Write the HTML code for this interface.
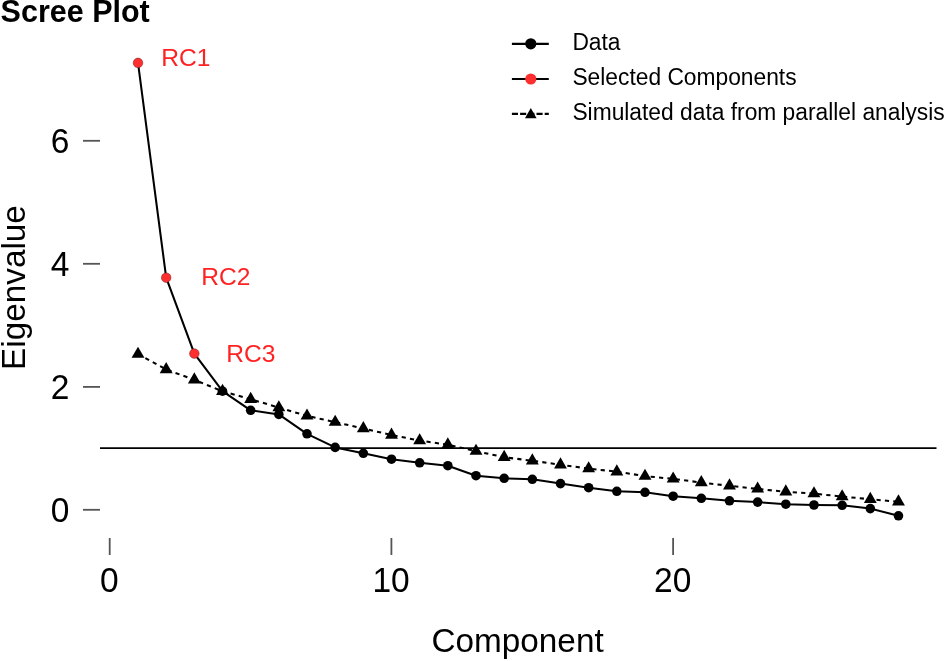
<!DOCTYPE html>
<html lang="en"><head><meta charset="utf-8"><title>Scree Plot</title>
<style>
html,body{margin:0;padding:0;background:#fff;}
body{width:945px;height:661px;overflow:hidden;}
svg{display:block;}
text{font-family:"Liberation Sans",Arial,Helvetica,sans-serif;fill:#000;}
</style></head><body>
<svg width="945" height="661" viewBox="0 0 945 661">
<rect width="945" height="661" fill="#fff"/>

<text x="0.6" y="21.9" font-size="30.5" font-weight="bold">Scree Plot</text>
<text transform="translate(24.5,287.5) rotate(-90)" font-size="33.3" text-anchor="middle">Eigenvalue</text>
<text x="517.6" y="651.8" font-size="33.3" text-anchor="middle">Component</text>
<line x1="83" y1="509.8" x2="100" y2="509.8" stroke="#555" stroke-width="1.8"/>
<text transform="translate(69.5,521.70) scale(1,1.045)" font-size="33.5" text-anchor="end">0</text>
<line x1="83" y1="386.9" x2="100" y2="386.9" stroke="#555" stroke-width="1.8"/>
<text transform="translate(69.5,398.80) scale(1,1.045)" font-size="33.5" text-anchor="end">2</text>
<line x1="83" y1="263.8" x2="100" y2="263.8" stroke="#555" stroke-width="1.8"/>
<text transform="translate(69.5,275.70) scale(1,1.045)" font-size="33.5" text-anchor="end">4</text>
<line x1="83" y1="140.8" x2="100" y2="140.8" stroke="#555" stroke-width="1.8"/>
<text transform="translate(69.5,152.70) scale(1,1.045)" font-size="33.5" text-anchor="end">6</text>
<line x1="109.70" y1="538" x2="109.70" y2="555" stroke="#555" stroke-width="1.8"/>
<text transform="translate(109.30,592.4) scale(1,1.05)" font-size="33.5" text-anchor="middle">0</text>
<line x1="391.40" y1="538" x2="391.40" y2="555" stroke="#555" stroke-width="1.8"/>
<text transform="translate(391.00,592.4) scale(1,1.05)" font-size="33.5" text-anchor="middle">10</text>
<line x1="673.10" y1="538" x2="673.10" y2="555" stroke="#555" stroke-width="1.8"/>
<text transform="translate(672.70,592.4) scale(1,1.05)" font-size="33.5" text-anchor="middle">20</text>
<line x1="100" y1="448.1" x2="936.5" y2="448.1" stroke="#000" stroke-width="1.8"/>
<polyline points="138.01,354.10 166.18,369.50 194.34,379.80 222.51,391.30 250.67,399.20 278.84,407.60 307.00,415.90 335.17,422.10 363.33,428.50 391.50,435.00 419.66,440.60 447.83,444.70 476.00,451.10 504.16,457.30 532.32,460.70 560.49,464.70 588.65,468.60 616.82,471.70 644.99,476.10 673.15,478.90 701.32,482.50 729.48,485.80 757.64,488.90 785.81,491.80 813.98,493.60 842.14,496.60 870.30,499.20 898.47,501.80" fill="none" stroke="#000" stroke-width="2.05" stroke-dasharray="4.2 4.21"/>
<g fill="#000"><polygon points="138.01,346.65 144.47,357.83 131.56,357.83"/><polygon points="166.18,362.05 172.63,373.23 159.73,373.23"/><polygon points="194.34,372.35 200.80,383.53 187.89,383.53"/><polygon points="222.51,383.85 228.96,395.03 216.06,395.03"/><polygon points="250.67,391.75 257.13,402.93 244.22,402.93"/><polygon points="278.84,400.15 285.29,411.33 272.39,411.33"/><polygon points="307.00,408.45 313.46,419.62 300.55,419.62"/><polygon points="335.17,414.65 341.62,425.83 328.72,425.83"/><polygon points="363.33,421.05 369.79,432.23 356.88,432.23"/><polygon points="391.50,427.55 397.95,438.73 385.05,438.73"/><polygon points="419.66,433.15 426.12,444.33 413.21,444.33"/><polygon points="447.83,437.25 454.28,448.43 441.38,448.43"/><polygon points="476.00,443.65 482.45,454.83 469.54,454.83"/><polygon points="504.16,449.85 510.61,461.03 497.71,461.03"/><polygon points="532.32,453.25 538.78,464.43 525.87,464.43"/><polygon points="560.49,457.25 566.94,468.43 554.04,468.43"/><polygon points="588.65,461.15 595.11,472.33 582.20,472.33"/><polygon points="616.82,464.25 623.27,475.43 610.37,475.43"/><polygon points="644.99,468.65 651.44,479.83 638.53,479.83"/><polygon points="673.15,471.45 679.60,482.62 666.70,482.62"/><polygon points="701.32,475.05 707.77,486.23 694.86,486.23"/><polygon points="729.48,478.35 735.93,489.53 723.03,489.53"/><polygon points="757.64,481.45 764.10,492.62 751.19,492.62"/><polygon points="785.81,484.35 792.26,495.53 779.36,495.53"/><polygon points="813.98,486.15 820.43,497.33 807.52,497.33"/><polygon points="842.14,489.15 848.59,500.33 835.69,500.33"/><polygon points="870.30,491.75 876.76,502.93 863.85,502.93"/><polygon points="898.47,494.35 904.92,505.53 892.02,505.53"/></g>
<polyline points="138.01,62.90 166.18,277.70 194.34,353.60 222.51,391.20 250.67,410.30 278.84,414.40 307.00,433.80 335.17,447.40 363.33,453.30 391.50,459.20 419.66,462.80 447.83,465.70 476.00,475.70 504.16,478.30 532.32,479.30 560.49,483.60 588.65,487.70 616.82,491.30 644.99,492.30 673.15,496.20 701.32,498.30 729.48,500.80 757.64,502.10 785.81,504.20 813.98,505.00 842.14,505.30 870.30,508.60 898.47,515.80" fill="none" stroke="#000" stroke-width="2.05" stroke-linejoin="round"/>
<g fill="#000"><circle cx="222.51" cy="391.20" r="4.8"/><circle cx="250.67" cy="410.30" r="4.8"/><circle cx="278.84" cy="414.40" r="4.8"/><circle cx="307.00" cy="433.80" r="4.8"/><circle cx="335.17" cy="447.40" r="4.8"/><circle cx="363.33" cy="453.30" r="4.8"/><circle cx="391.50" cy="459.20" r="4.8"/><circle cx="419.66" cy="462.80" r="4.8"/><circle cx="447.83" cy="465.70" r="4.8"/><circle cx="476.00" cy="475.70" r="4.8"/><circle cx="504.16" cy="478.30" r="4.8"/><circle cx="532.32" cy="479.30" r="4.8"/><circle cx="560.49" cy="483.60" r="4.8"/><circle cx="588.65" cy="487.70" r="4.8"/><circle cx="616.82" cy="491.30" r="4.8"/><circle cx="644.99" cy="492.30" r="4.8"/><circle cx="673.15" cy="496.20" r="4.8"/><circle cx="701.32" cy="498.30" r="4.8"/><circle cx="729.48" cy="500.80" r="4.8"/><circle cx="757.64" cy="502.10" r="4.8"/><circle cx="785.81" cy="504.20" r="4.8"/><circle cx="813.98" cy="505.00" r="4.8"/><circle cx="842.14" cy="505.30" r="4.8"/><circle cx="870.30" cy="508.60" r="4.8"/><circle cx="898.47" cy="515.80" r="4.8"/></g>
<g fill="#fd2f2f" stroke="#6b2020" stroke-width="0.5"><circle cx="138.01" cy="62.90" r="4.8"/><circle cx="166.18" cy="277.70" r="4.8"/><circle cx="194.34" cy="353.60" r="4.8"/></g>
<text x="161.3" y="65.7" font-size="24.6" style="fill:#ff2222">RC1</text>
<text x="201.3" y="285" font-size="24.6" style="fill:#ff2222">RC2</text>
<text x="226.3" y="362" font-size="24.6" style="fill:#ff2222">RC3</text>
<line x1="511.9" y1="43.8" x2="548.8" y2="43.8" stroke="#000" stroke-width="2.2"/>
<circle cx="530.8" cy="43.8" r="5.6" fill="#000"/>
<text transform="translate(572.4,50.00) scale(1,1.05)" font-size="22.8">Data</text>
<line x1="511.9" y1="79" x2="548.8" y2="79" stroke="#000" stroke-width="2.2"/>
<circle cx="530.8" cy="79" r="5.6" fill="#fd2f2f"/>
<text transform="translate(572.4,85.20) scale(1,1.05)" font-size="22.8">Selected Components</text>
<line x1="511.9" y1="113.85" x2="548.8" y2="113.85" stroke="#000" stroke-width="2.2" stroke-dasharray="6.1 2.1"/>
<g fill="#000"><polygon points="530.80,108.10 536.60,118.15 525.00,118.15"/></g>
<text transform="translate(572.4,120.05) scale(1,1.05)" font-size="22.8">Simulated data from parallel analysis</text>
</svg></body></html>
